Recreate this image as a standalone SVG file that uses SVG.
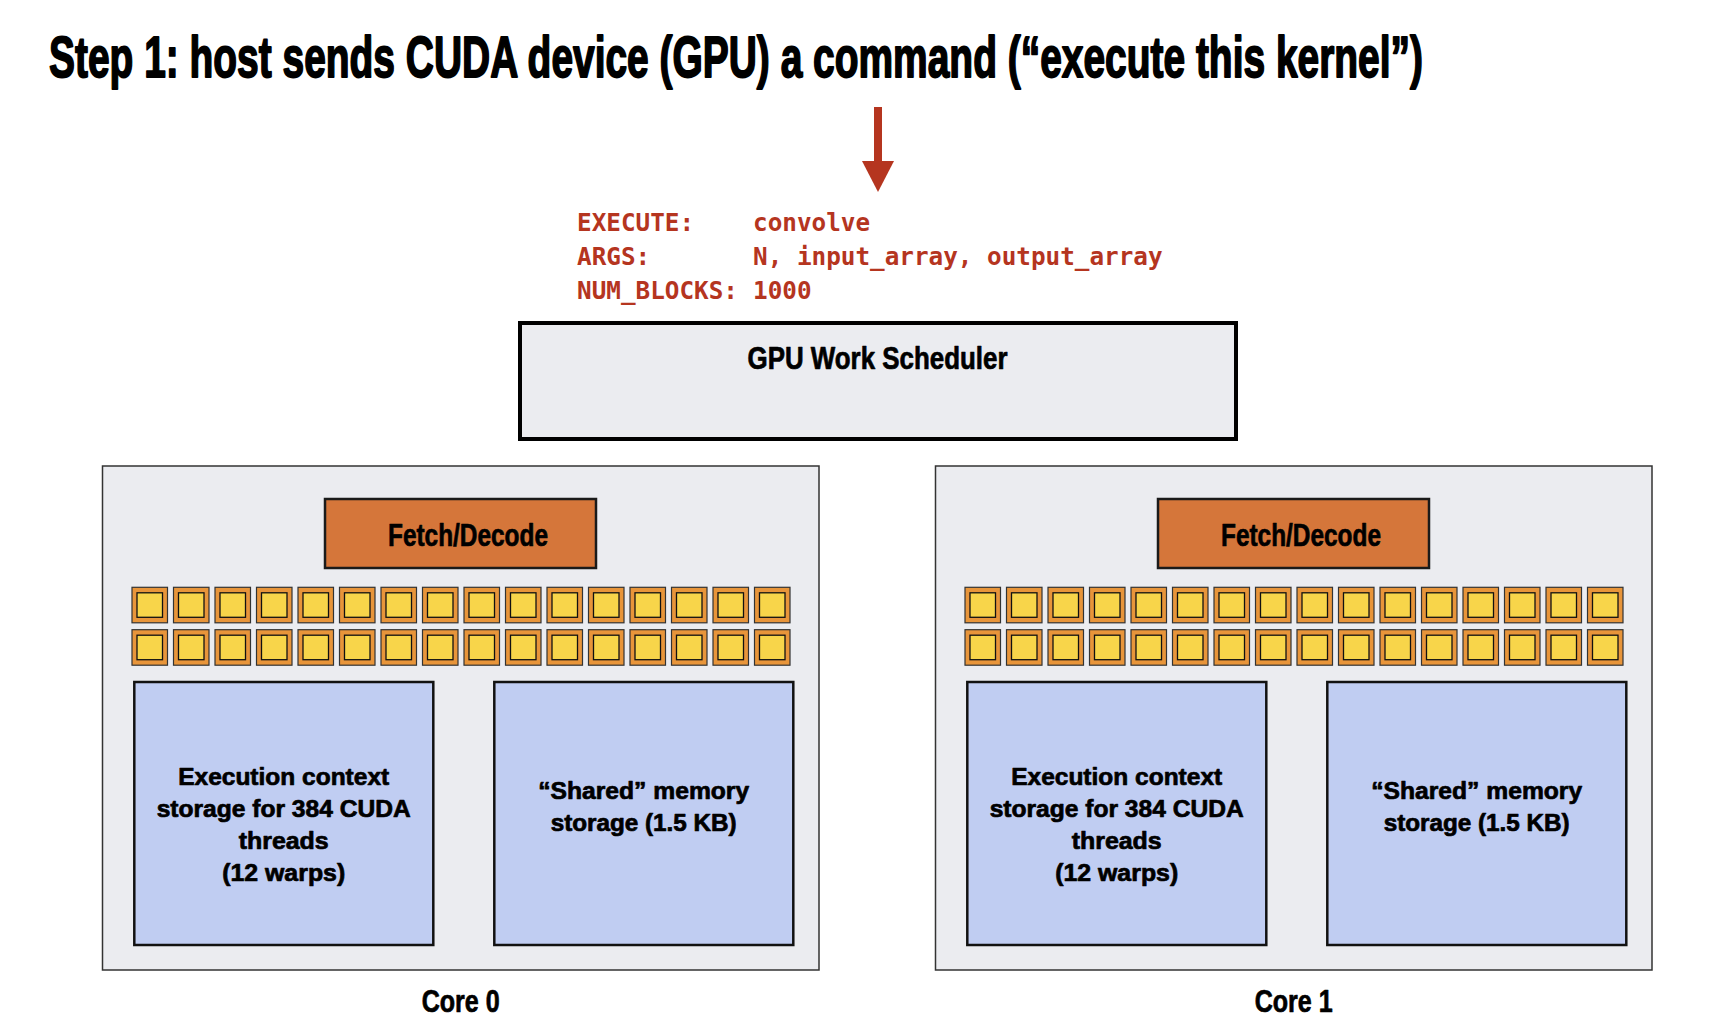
<svg xmlns="http://www.w3.org/2000/svg" xmlns:xlink="http://www.w3.org/1999/xlink" width="1734" height="1024" viewBox="0 0 1734 1024">
<style>
.bold{font-family:"Liberation Sans Narrow","Liberation Sans",Arial,sans-serif;font-weight:bold;fill:#000;stroke:#000;stroke-width:0.7;stroke-linejoin:round}
.ttl{stroke-width:1.8}
.mono{font-family:"DejaVu Sans Mono","Liberation Mono",monospace;font-weight:bold;font-size:24.3px;fill:#b5351f}
.core{fill:#ebecf0;stroke:#333;stroke-width:1.5}
.fd{fill:#d5763a;stroke:#1a1a1a;stroke-width:2.5}
.mem{fill:#c0cdf2;stroke:#111;stroke-width:2.5}
.sched{fill:#ebecf0;stroke:#000;stroke-width:4}
.aluo{fill:#e8953a;stroke:#333;stroke-width:1.2}
.alui{fill:#f8d54a;stroke:#111;stroke-width:1.3}
.memtxt{font-size:23.5px}
</style>
<defs>
<g id="alu">
<rect class="aluo" x="0" y="0" width="35.5" height="35.5"/>
<rect class="alui" x="5" y="5.5" width="25.5" height="24.5"/>
</g>
<g id="alurow">
<use xlink:href="#alu" x="0"/><use xlink:href="#alu" x="41.5"/><use xlink:href="#alu" x="83"/><use xlink:href="#alu" x="124.5"/>
<use xlink:href="#alu" x="166"/><use xlink:href="#alu" x="207.5"/><use xlink:href="#alu" x="249"/><use xlink:href="#alu" x="290.5"/>
<use xlink:href="#alu" x="332"/><use xlink:href="#alu" x="373.5"/><use xlink:href="#alu" x="415"/><use xlink:href="#alu" x="456.5"/>
<use xlink:href="#alu" x="498"/><use xlink:href="#alu" x="539.5"/><use xlink:href="#alu" x="581"/><use xlink:href="#alu" x="622.5"/>
</g>
</defs>
<rect width="1734" height="1024" fill="#fff"/>

<g id="title" transform="translate(49,77) scale(0.75,1)">
<text class="bold ttl" x="0" y="0" font-size="57" textLength="1832" lengthAdjust="spacingAndGlyphs">Step 1: host sends CUDA device (GPU) a command (“execute this kernel”)</text>
</g>

<g id="connectors">
<line x1="878" y1="107" x2="878" y2="162" stroke="#b5351f" stroke-width="8"/>
<polygon points="862,161 894,161 878,192" fill="#b5351f"/>
</g>

<g id="command">
<text class="mono" x="577" y="231">EXECUTE:</text>
<text class="mono" x="753" y="231">convolve</text>
<text class="mono" x="577" y="265">ARGS:</text>
<text class="mono" x="753" y="265">N, input_array, output_array</text>
<text class="mono" x="577" y="299">NUM_BLOCKS:</text>
<text class="mono" x="753" y="299">1000</text>
</g>

<g id="scheduler">
<rect class="sched" x="520" y="323" width="716" height="116"/>
<text class="bold" x="747.5" y="369" font-size="31" textLength="260" lengthAdjust="spacingAndGlyphs">GPU Work Scheduler</text>
</g>

<g id="core0">
<rect class="core" x="102.5" y="466" width="716.5" height="504"/>
<g id="core0-fetch">
<rect class="fd" x="325" y="499" width="271" height="69"/>
<text class="bold" x="388" y="546" font-size="32" textLength="160" lengthAdjust="spacingAndGlyphs">Fetch/Decode</text>
</g>
<g id="core0-alus">
<use xlink:href="#alurow" x="132" y="587.3"/>
<use xlink:href="#alurow" x="132" y="629.7"/>
</g>
<g id="core0-ctx">
<rect class="mem" x="134.3" y="682" width="299" height="263"/>
<text class="bold memtxt" x="283.7" y="785" text-anchor="middle" textLength="211" lengthAdjust="spacingAndGlyphs">Execution context</text>
<text class="bold memtxt" x="283.7" y="817" text-anchor="middle" textLength="254" lengthAdjust="spacingAndGlyphs">storage for 384 CUDA</text>
<text class="bold memtxt" x="283.7" y="849" text-anchor="middle" textLength="90" lengthAdjust="spacingAndGlyphs">threads</text>
<text class="bold memtxt" x="283.7" y="881" text-anchor="middle" textLength="123" lengthAdjust="spacingAndGlyphs">(12 warps)</text>
</g>
<g id="core0-shared">
<rect class="mem" x="494.3" y="682" width="299" height="263"/>
<text class="bold memtxt" x="643.7" y="799" text-anchor="middle" textLength="211" lengthAdjust="spacingAndGlyphs">“Shared” memory</text>
<text class="bold memtxt" x="643.7" y="831" text-anchor="middle" textLength="186" lengthAdjust="spacingAndGlyphs">storage (1.5 KB)</text>
</g>
<text class="bold" x="460.7" y="1012" font-size="31" text-anchor="middle" textLength="78" lengthAdjust="spacingAndGlyphs">Core 0</text>
</g>

<g id="core1" transform="translate(833,0)">
<rect class="core" x="102.5" y="466" width="716.5" height="504"/>
<g id="core1-fetch">
<rect class="fd" x="325" y="499" width="271" height="69"/>
<text class="bold" x="388" y="546" font-size="32" textLength="160" lengthAdjust="spacingAndGlyphs">Fetch/Decode</text>
</g>
<g id="core1-alus">
<use xlink:href="#alurow" x="132" y="587.3"/>
<use xlink:href="#alurow" x="132" y="629.7"/>
</g>
<g id="core1-ctx">
<rect class="mem" x="134.3" y="682" width="299" height="263"/>
<text class="bold memtxt" x="283.7" y="785" text-anchor="middle" textLength="211" lengthAdjust="spacingAndGlyphs">Execution context</text>
<text class="bold memtxt" x="283.7" y="817" text-anchor="middle" textLength="254" lengthAdjust="spacingAndGlyphs">storage for 384 CUDA</text>
<text class="bold memtxt" x="283.7" y="849" text-anchor="middle" textLength="90" lengthAdjust="spacingAndGlyphs">threads</text>
<text class="bold memtxt" x="283.7" y="881" text-anchor="middle" textLength="123" lengthAdjust="spacingAndGlyphs">(12 warps)</text>
</g>
<g id="core1-shared">
<rect class="mem" x="494.3" y="682" width="299" height="263"/>
<text class="bold memtxt" x="643.7" y="799" text-anchor="middle" textLength="211" lengthAdjust="spacingAndGlyphs">“Shared” memory</text>
<text class="bold memtxt" x="643.7" y="831" text-anchor="middle" textLength="186" lengthAdjust="spacingAndGlyphs">storage (1.5 KB)</text>
</g>
<text class="bold" x="460.7" y="1012" font-size="31" text-anchor="middle" textLength="78" lengthAdjust="spacingAndGlyphs">Core 1</text>
</g>
</svg>
